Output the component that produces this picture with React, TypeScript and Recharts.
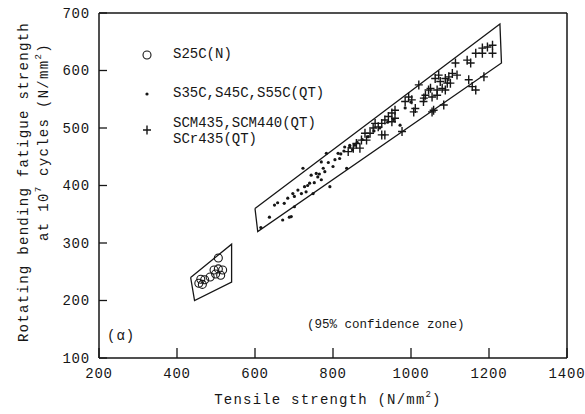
import { ReferenceLine, Scatter, ScatterChart, XAxis, YAxis } from "recharts"

// axis ticks
const xTicks = [200, 400, 600, 800, 1000, 1200, 1400]
const yTicks = [100, 200, 300, 400, 500, 600, 700]

// S25C(N) - open circles
const s25c: [number, number][] = [
  [506, 274], [495, 253], [506, 255], [517, 253], [499, 246], [512, 244],
  [485, 241], [461, 237], [471, 236], [456, 230], [465, 228],
]

// S35C,S45C,S55C(QT) - dots
const s35c: [number, number][] = [
  [615, 327], [637, 345], [650, 366], [658, 370], [671, 340], [675, 369], [684, 378],
  [688, 345], [693, 346], [697, 386], [701, 381], [701, 363], [710, 392], [719, 386],
  [723, 430], [727, 398], [731, 389], [735, 400], [740, 404], [744, 418], [749, 386],
  [752, 405], [757, 421], [761, 415], [765, 420], [770, 410], [770, 441], [775, 430],
  [779, 424], [783, 456], [788, 440], [792, 398], [800, 433], [805, 445], [813, 456],
  [817, 447], [820, 455], [828, 460], [830, 467], [835, 430], [843, 467], [843, 470],
  [850, 462], [856, 470], [862, 475], [875, 480], [890, 485], [905, 495], [920, 500],
  [940, 510], [955, 515], [972, 505], [985, 535], [1000, 545],
]

// SCM435,SCM440(QT), SCr435(QT) - plus
const scm: [number, number][] = [
  [839, 459], [852, 465], [860, 473], [869, 465], [873, 479], [882, 491], [886, 479],
  [895, 491], [903, 500], [908, 508], [916, 502], [925, 508], [925, 488], [933, 514],
  [933, 488], [942, 520], [951, 526], [951, 511], [959, 531], [959, 517], [977, 494],
  [985, 546], [994, 554], [1002, 549], [1007, 528], [1011, 534], [1020, 575], [1032, 546],
  [1033, 552], [1037, 557], [1045, 566], [1050, 569], [1054, 554], [1054, 528], [1058, 531],
  [1062, 586], [1067, 566], [1067, 557], [1071, 592], [1075, 581], [1080, 569], [1084, 540],
  [1088, 586], [1088, 566], [1093, 578], [1097, 589], [1101, 578], [1106, 595], [1114, 613],
  [1118, 592], [1144, 618], [1148, 584], [1153, 613], [1157, 572], [1166, 630], [1166, 566],
  [1183, 639], [1183, 630], [1187, 589], [1196, 641], [1209, 644], [1209, 630],
]

// 95% confidence zones (closed outlines)
const zoneSmall: [number, number][] = [
  [435, 240], [540, 298], [540, 232], [445, 200], [435, 240],
]
const zoneLarge: [number, number][] = [
  [600, 360], [1228, 681], [1232, 613], [607, 320], [600, 360],
]

const toPts = (arr: [number, number][]) => arr.map(([x, y]) => ({ x, y }))

const FONT = "'Liberation Mono', 'DejaVu Sans Mono', monospace"
const INK = "#161616"

const XTick = (props: any) => {
  const { x, y, payload } = props
  return (
    <g>
      <line x1={x} x2={x} y1={y} y2={y - 10} stroke={INK} strokeWidth={1.3} />
      <text x={x} y={y + 15} dy="0.35em" textAnchor="middle" fontFamily={FONT} fontSize={14} letterSpacing={0.8} fill={INK}>
        {payload.value}
      </text>
    </g>
  )
}

const YTick = (props: any) => {
  const { x, y, payload } = props
  return (
    <g>
      <line x1={x} x2={x + 8} y1={y} y2={y} stroke={INK} strokeWidth={1.3} />
      <text x={x - 9} y={y} dy="0.35em" textAnchor="end" fontFamily={FONT} fontSize={14} letterSpacing={0.8} fill={INK}>
        {payload.value}
      </text>
    </g>
  )
}

const OpenCircle = (p: any) => <circle cx={p.cx} cy={p.cy} r={4} fill="none" stroke={INK} strokeWidth={1.1} />
const Dot = (p: any) => <circle cx={p.cx} cy={p.cy} r={1.6} fill={INK} />
const Plus = (p: any) => (
  <path d={`M${p.cx - 4},${p.cy}H${p.cx + 4}M${p.cx},${p.cy - 4.5}V${p.cy + 4.5}`} stroke={INK} strokeWidth={1.4} />
)
const NoShape = () => <g />

export default function App() {
  return (
    <div style={{ position: "absolute", left: 0, top: 0, width: 585, height: 414, background: "#fff" }}>
      <ScatterChart width={585} height={414} margin={{ top: 13, right: 18, bottom: 26, left: 0 }}>
        <XAxis
          type="number"
          dataKey="x"
          domain={[200, 1400]}
          ticks={xTicks}
          height={30}
          tickSize={0}
          tickMargin={0}
          tickLine={false}
          tick={<XTick />}
          axisLine={{ stroke: INK, strokeWidth: 1.5 }}
          allowDataOverflow
        />
        <YAxis
          type="number"
          dataKey="y"
          domain={[100, 700]}
          ticks={yTicks}
          width={99}
          tickSize={0}
          tickMargin={0}
          tickLine={false}
          tick={<YTick />}
          axisLine={{ stroke: INK, strokeWidth: 1.5 }}
          allowDataOverflow
        />
        <ReferenceLine y={700} stroke={INK} strokeWidth={1.5} />
        <ReferenceLine x={1400} stroke={INK} strokeWidth={1.5} />
        <Scatter data={toPts(zoneSmall)} line={{ stroke: INK, strokeWidth: 1.3 }} lineType="joint" shape={<NoShape />} isAnimationActive={false} />
        <Scatter data={toPts(zoneLarge)} line={{ stroke: INK, strokeWidth: 1.3 }} lineType="joint" shape={<NoShape />} isAnimationActive={false} />
        <Scatter data={toPts(s25c)} shape={<OpenCircle />} isAnimationActive={false} />
        <Scatter data={toPts(s35c)} shape={<Dot />} isAnimationActive={false} />
        <Scatter data={toPts(scm)} shape={<Plus />} isAnimationActive={false} />
      </ScatterChart>

      {/* titles, legend and notes */}
      <svg width={585} height={414} style={{ position: "absolute", left: 0, top: 0, pointerEvents: "none" }}>
        <g fontFamily={FONT} fill={INK}>
          <text x={24} y={182} transform="rotate(-90 24 182)" textAnchor="middle" dominantBaseline="central" fontSize={14} letterSpacing={1.3}>
            Rotating bending fatigue strength
          </text>
          <text x={44} y={142} transform="rotate(-90 44 142)" textAnchor="middle" dominantBaseline="central" fontSize={14} letterSpacing={1.3}>
            at 10<tspan dy={-5} fontSize={9}>7</tspan>
            <tspan dy={5}> cycles (N/mm</tspan>
            <tspan dy={-5} fontSize={9}>2</tspan>
            <tspan dy={5}>)</tspan>
          </text>
          <text x={328} y={400} textAnchor="middle" dominantBaseline="central" fontSize={14} letterSpacing={1.2}>
            Tensile strength (N/mm<tspan dy={-5} fontSize={9}>2</tspan>
            <tspan dy={5}>)</tspan>
          </text>

          <circle cx={147} cy={55} r={4} fill="none" stroke={INK} strokeWidth={1.1} />
          <text x={173} y={54} dominantBaseline="central" fontSize={14}>S25C(N)</text>
          <circle cx={147} cy={94} r={1.6} />
          <text x={173} y={93} dominantBaseline="central" fontSize={14}>S35C,S45C,S55C(QT)</text>
          <path d="M143,130H151M147,125.5V134.5" stroke={INK} strokeWidth={1.4} />
          <text x={173} y={123} dominantBaseline="central" fontSize={14}>SCM435,SCM440(QT)</text>
          <text x={173} y={139} dominantBaseline="central" fontSize={14}>SCr435(QT)</text>

          <text x={107} y={336} dominantBaseline="central" fontSize={14} letterSpacing={1}>(α)</text>
          <text x={307} y={325} dominantBaseline="central" fontSize={12.5}>(95% confidence zone)</text>
        </g>
      </svg>
    </div>
  )
}
